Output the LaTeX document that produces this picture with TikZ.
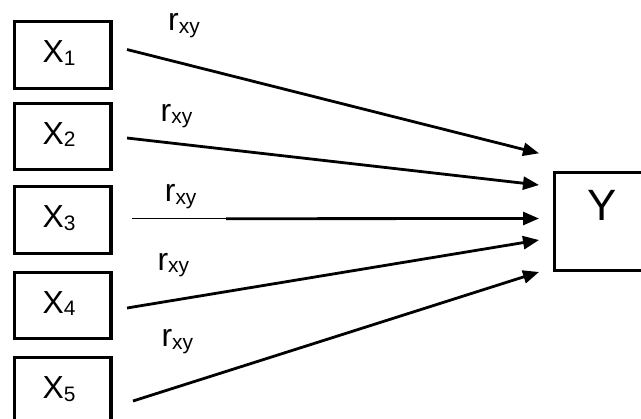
\documentclass[tikz,border=0pt]{standalone}
\usepackage{fontspec}
\setmainfont{Liberation Sans}
\usetikzlibrary{arrows.meta}
\newcommand\lowsub[1]{\raisebox{-2.8bp}{\fontsize{21}{25}\selectfont #1}}
\begin{document}
\begin{tikzpicture}[x=1bp,y=-1bp,
  xbox/.style={draw, line width=3.2bp, rectangle, inner sep=0pt, minimum width=96.7bp, minimum height=66.6bp},
  ybox/.style={draw, line width=3.2bp, rectangle, inner sep=0pt, minimum width=97.3bp, minimum height=98.6bp},
  conn/.style={line width=2.8bp, -{Triangle[length=16bp,width=13bp]}},
  thinconn/.style={line width=1.4bp},
  lbl/.style={anchor=base west, inner sep=0pt, font=\fontsize{32}{38}\selectfont},
  ylbl/.style={anchor=base, inner sep=0pt, font=\fontsize{44}{52}\selectfont}]
\useasboundingbox (0,0) rectangle (641,418);
\clip (0,0) rectangle (641,418);
\fill[white] (0,0) rectangle (641,418);
% boxes
\node[xbox] (b1) at (62.7,55) {};
\node[xbox] (b2) at (62.7,136.5) {};
\node[xbox] (b3) at (62.7,220) {};
\node[xbox] (b4) at (62.7,305.5) {};
\node[xbox] (b5) at (62.7,391) {};
\node[ybox] (by) at (603.3,221.5) {};
% box texts
\node[lbl] (t1) at (42.5,62.5) {X\lowsub{1}};
\node[lbl] (t2) at (42.5,144) {X\lowsub{2}};
\node[lbl] (t3) at (42.5,227.5) {X\lowsub{3}};
\node[lbl] (t4) at (42.5,313) {X\lowsub{4}};
\node[lbl] (t5) at (42.5,398.5) {X\lowsub{5}};
\node[ylbl] (ty) at (602.5,220.7) {Y};
% connector ends
\coordinate (s1) at (127,49.5);
\coordinate (s2) at (127,138);
\coordinate (s3) at (132,218.7);
\coordinate (m3) at (226,218.7);
\coordinate (s4) at (127,308);
\coordinate (s5) at (133,401);
\coordinate (e1) at (539,153.3);
\coordinate (e2) at (539,185);
\coordinate (e3) at (539,218.5);
\coordinate (e4) at (539,240);
\coordinate (e5) at (539,272);
\draw[conn] (s1) -- (e1);
\draw[conn] (s2) -- (e2);
\draw[thinconn] (s3) -- (m3);
\draw[conn] (m3) -- (e3);
\draw[conn] (s4) -- (e4);
\draw[conn] (s5) -- (e5);
% labels
\node[lbl] (r1) at (168,30.7) {r\lowsub{xy}};
\node[lbl] (r2) at (160.5,121) {r\lowsub{xy}};
\node[lbl] (r3) at (164.7,201.7) {r\lowsub{xy}};
\node[lbl] (r4) at (157.3,270) {r\lowsub{xy}};
\node[lbl] (r5) at (161.3,346.7) {r\lowsub{xy}};
\end{tikzpicture}
\end{document}
